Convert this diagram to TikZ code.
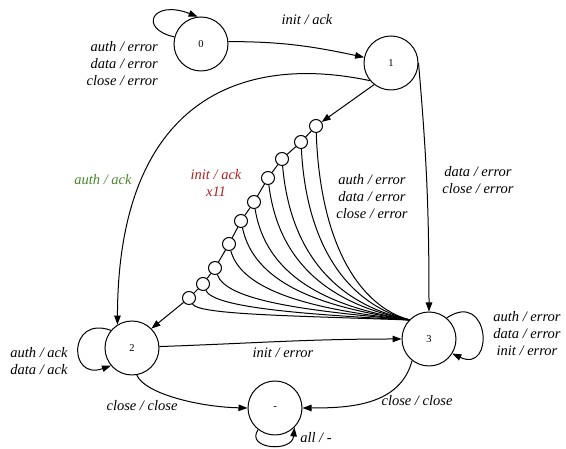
\documentclass[tikz,border=0pt]{standalone}
\usepackage{fontspec}
\setmainfont{Liberation Serif}
\usetikzlibrary{arrows.meta}
\definecolor{lblred}{RGB}{175,30,35}
\definecolor{lblgreen}{RGB}{72,135,40}
\tikzset{
  x=1pt, y=1pt,
  state/.style={draw, circle, line width=1pt, minimum size=54pt, inner sep=0pt, font=\fontsize{10.5}{12}\selectfont},
  mini/.style={draw, circle, line width=1pt, minimum size=13pt, inner sep=0pt},
  edge/.style={line width=1pt, -{Triangle[length=9pt,width=6.5pt]}},
  plain/.style={line width=1pt},
  lbl/.style={font=\fontsize{14.5}{17}\selectfont\itshape, inner sep=0pt},
}
\begin{document}
\begin{tikzpicture}
\useasboundingbox (0,0) rectangle (566,449);
% states
\node[state] (n0) at (201,405) {0};
\node[state] (n1) at (391,386) {1};
\node[state] (n2) at (132,101) {2};
\node[state] (n3) at (429,110) {3};
\node[state] (nd) at (275,41) {-};
% chain
\node[mini] (c1) at (316,323) {};
\node[mini] (c2) at (301,307) {};
\node[mini] (c3) at (282,290) {};
\node[mini] (c4) at (268,271) {};
\node[mini] (c5) at (254,247) {};
\node[mini] (c6) at (241,228) {};
\node[mini] (c7) at (229,205) {};
\node[mini] (c8) at (215,181) {};
\node[mini] (c9) at (203,165) {};
\node[mini] (c10) at (189,151) {};
\coordinate (fanend) at (410,129);
% 0
\draw[edge] (n0.165) .. controls (138,420) and (152,450) .. (n0.97);
\node[lbl, anchor=east, align=right] (l0) at (158,385) {auth / error\\data / error\\close / error};
\draw[edge] (n0.5) to[out=0, in=168] (n1.168);
\node[lbl] (l01) at (307,429) {init / ack};
% 1
\draw[edge] (n1.east) to[out=-85, in=90] (n3.north);
\node[lbl, align=center] (l13) at (478,269) {data / error\\close / error};
\draw[edge] (n1.220) .. controls (240,396) and (118,348) .. (n2.122);
\node[lbl, text=lblgreen] (l12) at (103,269) {auth / ack};
\draw[edge] (n1.232) -- (c1);
\node[lbl, text=lblred, align=center] (lred) at (216,266) {init / ack\\x11};
% chain links
\draw[plain] (c1) -- (c2) -- (c3) -- (c4) -- (c5) -- (c6) -- (c7) -- (c8) -- (c9) -- (c10);
\draw[edge] (c10) -- (n2.45);
% fan
\foreach \c/\oa/\la/\ia/\lb in {c1/-88/110/165/53, c2/-87/101/166/61, c3/-85/91/168/72, c4/-83/80/169/80, c5/-81/66/171/87, c6/-78/55/172/95, c7/-75/41/174/101, c8/-71/27/175/109, c9/-66/18/177/116, c10/-60/12/178/124}{
  \draw[plain] (\c.\oa) .. controls +(\oa:\la) and +(\ia:\lb) .. (fanend);
}
\node[lbl, align=center] (lfan) at (372,252) {auth / error\\data / error\\close / error};
% 2
\draw[edge] (n2.140) .. controls (68,134) and (68,68) .. (n2.220);
\node[lbl, align=center] (l2) at (39,88) {auth / ack\\data / ack};
\draw[edge] (n2.3) to[out=2, in=180] (n3.west);
\node[lbl] (l23) at (283,96) {init / error};
\draw[edge] (n2.280) .. controls (145,55) and (200,42) .. (nd.west);
\node[lbl] (l2d) at (142,43) {close / close};
% 3
\draw[edge] (n3.50) .. controls (490,160) and (495,75) .. (n3.-32);
\node[lbl, align=center] (l3) at (527,115) {auth / error\\data / error\\init / error};
\draw[edge] (n3.232) to[out=-105, in=0] (nd.east);
\node[lbl] (l3d) at (417,48) {close / close};
% -
\draw[edge] (nd.232) .. controls (245,0) and (292,-4) .. (nd.-45);
\node[lbl] (ld) at (316,11) {all / -};
\end{tikzpicture}
\end{document}
